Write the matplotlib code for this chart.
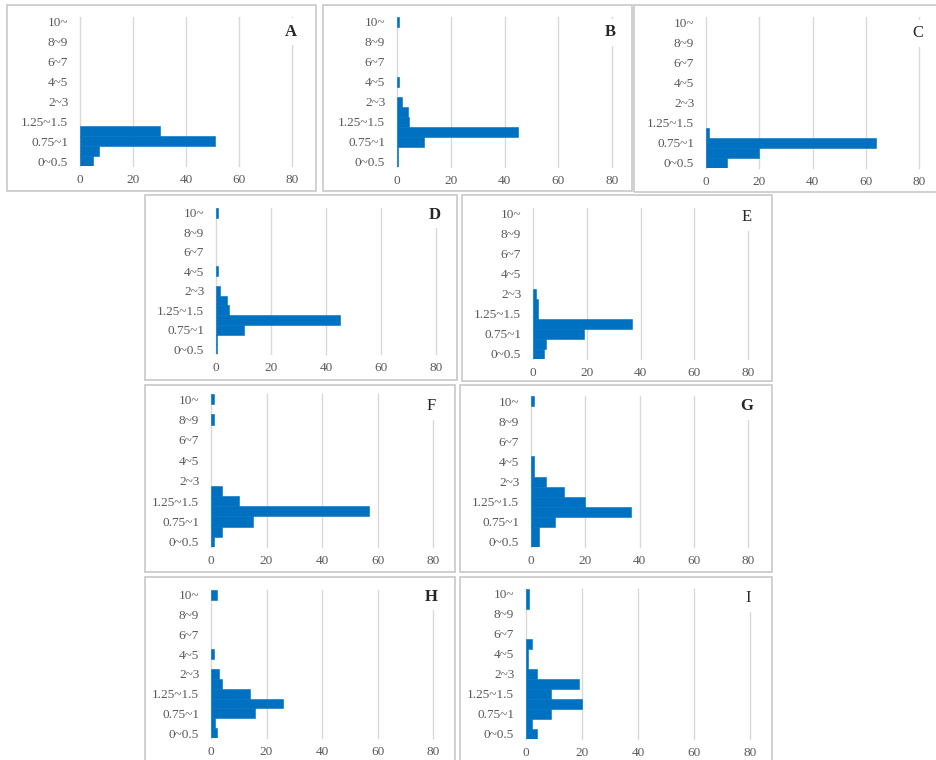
import matplotlib
matplotlib.use("Agg")
import matplotlib.pyplot as plt
from matplotlib.patches import Rectangle

plt.rcParams["font.family"] = ["Liberation Serif", "DejaVu Serif"]

# Size classes (bottom to top) and the labels shown on the category axis
classes = ["0~0.5", "0.5~0.75", "0.75~1", "1~1.25", "1.25~1.5", "1.5~2", "2~3",
           "3~4", "4~5", "5~6", "6~7", "7~8", "8~9", "9~10", "10~"]
x_ticks = [0, 20, 40, 60, 80]

panel_names = ["A", "B", "C", "D", "E", "F", "G", "H", "I"]

counts_a = [5, 7, 51, 30, 0, 0, 0, 0, 0, 0, 0, 0, 0, 0, 0]
counts_b = [0.5, 0.5, 10, 45, 4.5, 4, 1.7, 0, 0.7, 0, 0, 0, 0, 0, 0.7]
counts_c = [8, 20, 64, 1, 0, 0, 0, 0, 0, 0, 0, 0, 0, 0, 0]
counts_d = [0.5, 0.5, 10, 45, 4.7, 4, 1.5, 0, 0.8, 0, 0, 0, 0, 0, 0.8]
counts_e = [4, 5, 19, 37, 2, 1.8, 1, 0, 0, 0, 0, 0, 0, 0, 0]
counts_f = [1, 4, 15, 57, 10, 4, 0, 0, 0, 0, 0, 0, 1, 0, 1]
counts_g = [3, 3, 9, 37, 20, 12, 5.6, 1, 1, 0, 0, 0, 0, 0, 1]
counts_h = [2, 1.5, 16, 26, 14, 4, 3, 0, 1, 0, 0, 0, 0, 0, 2]
counts_i = [4, 2, 9, 20, 9, 19, 4, 0.6, 0.6, 2, 0, 0, 0, 1, 1]

all_counts = [counts_a, counts_b, counts_c, counts_d, counts_e,
              counts_f, counts_g, counts_h, counts_i]

W, H = 936, 760

# Panel frames (x0, y0, x1, y1) and plot areas (x at 0, x at 80, top, bottom), in pixels
frames = [(7, 5, 316, 191), (323, 5, 632, 191), (634, 5, 945, 192),
          (145, 195, 457, 380), (462, 195, 772, 381),
          (145, 385, 455, 572), (460, 385, 772, 572),
          (145, 577, 455, 790), (460, 577, 772, 790)]
areas = [(80, 292, 17, 166), (397, 612, 17, 167), (706, 919, 17, 168),
         (216, 436, 208, 354), (533, 748, 208, 359),
         (211, 433, 394, 547), (531, 748, 396, 547),
         (211, 433, 590, 738), (526, 750, 589, 739)]
letter_y = [13.0, 13.0, 12.9, 13.8, 13.6, 13.3, 13.5, 13.8, 13.6]
letter_bold = [True, True, False, True, False, False, True, True, False]

fig = plt.figure(figsize=(W / 100, H / 100), dpi=100)
fig.patch.set_facecolor("white")

for (fx0, fy0, fx1, fy1) in frames:
    fig.patches.append(Rectangle((fx0 / W, 1 - fy1 / H), (fx1 - fx0) / W, (fy1 - fy0) / H,
                                 transform=fig.transFigure, facecolor="none",
                                 edgecolor="#C8C8C8", linewidth=1.2, zorder=-1))

bar_color = "#0070C0"
tick_color = "#595959"
pos = list(range(len(classes)))

for name, counts, (x0, x80, yt, yb), ly, bold in zip(panel_names, all_counts, areas,
                                                     letter_y, letter_bold):
    ax = fig.add_axes([x0 / W, 1 - yb / H, (x80 - x0) / W, (yb - yt) / H])
    ax.set_facecolor("none")
    # empty classes get no outline, so nothing is drawn along the zero line
    edges = [bar_color if c > 0 else "none" for c in counts]
    ax.barh(pos, counts, height=1.0, color=bar_color, edgecolor=edges,
            linewidth=0.4, zorder=3)
    ax.set_xlim(0, 80)
    ax.set_ylim(-0.5, len(classes) - 0.5)
    ax.set_xticks(x_ticks)
    ax.set_xticklabels([str(t) for t in x_ticks])
    ax.set_yticks(pos[::2])
    ax.set_yticklabels(classes[::2])
    ax.tick_params(axis="both", length=0, labelsize=9.5, colors=tick_color)
    ax.tick_params(axis="y", pad=8.5)
    ax.tick_params(axis="x", pad=6)
    ax.xaxis.grid(True, color="#D9D9D9", linewidth=1.0, zorder=0)
    for gl in ax.get_xgridlines():
        gl.set_clip_on(False)
    ax.set_axisbelow(True)
    for s in ax.spines.values():
        s.set_visible(False)
    ax.text(79.5, ly, name, ha="center", va="center", fontsize=12,
            fontweight="bold" if bold else "normal", color="#262626", zorder=6,
            bbox=dict(facecolor="white", edgecolor="none", pad=4))

fig.savefig("out.png", dpi=100, facecolor="white")
